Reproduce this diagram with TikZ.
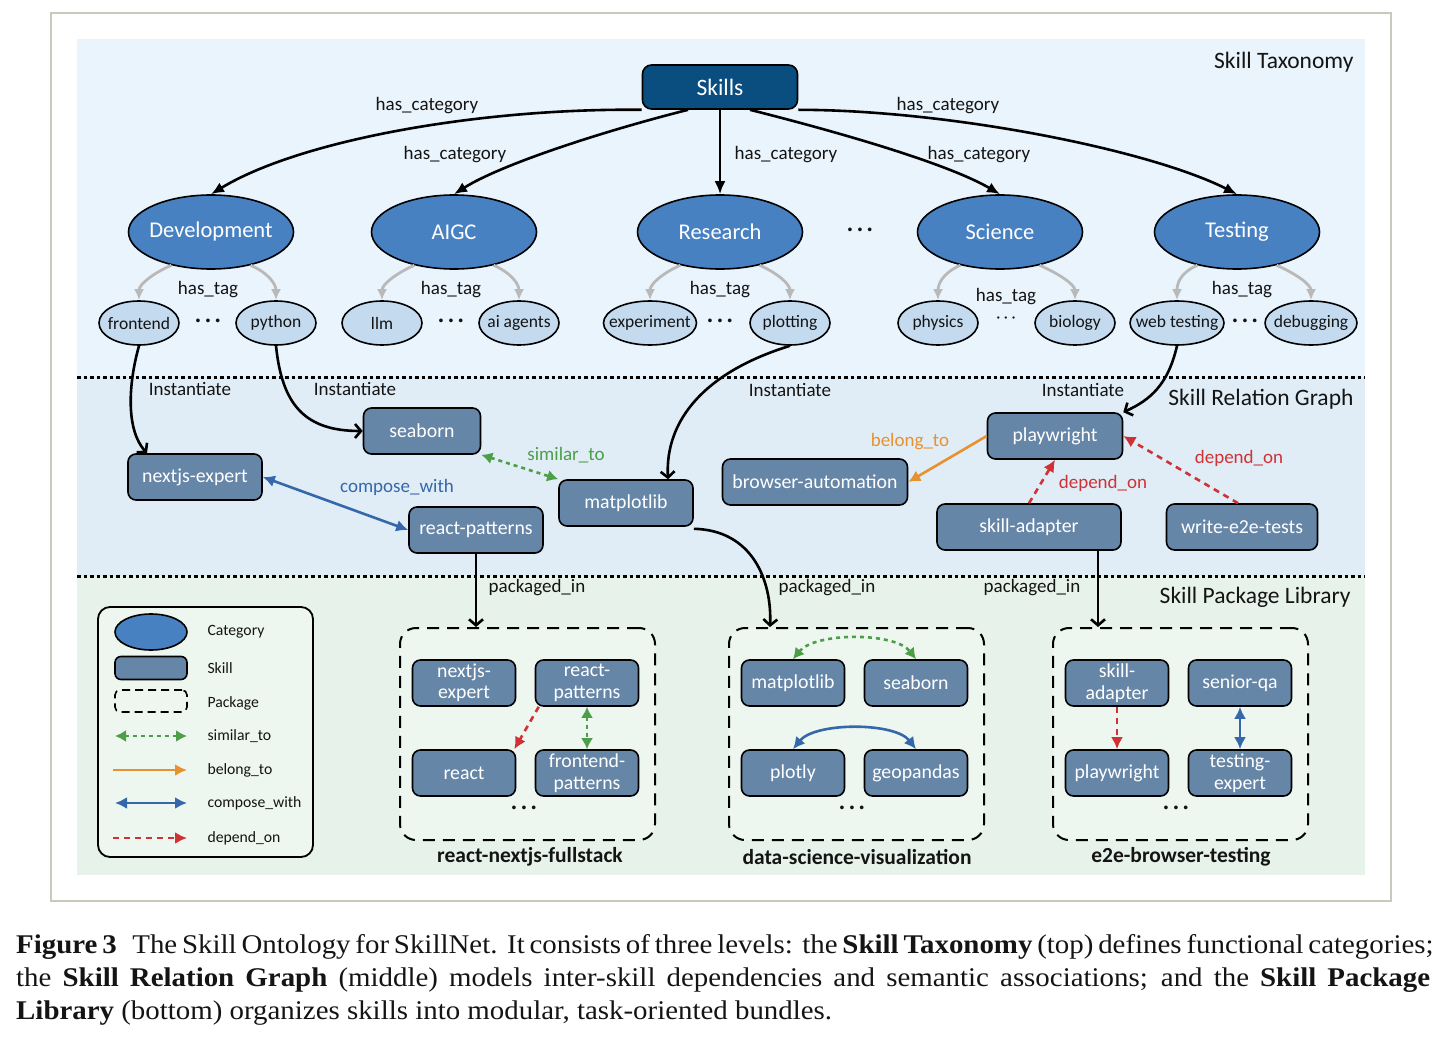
\documentclass[tikz,border=0pt]{standalone}
\usepackage{fontspec}
\setmainfont{Carlito}
\newfontfamily\capfont[FakeStretch=1.07]{Liberation Serif}
\usepackage{tikz}
\usetikzlibrary{arrows.meta,positioning,shapes.geometric,calc}
\usepackage{xcolor}
\definecolor{skillsdark}{RGB}{10,78,128}
\definecolor{catblue}{RGB}{72,129,194}
\definecolor{tagblue}{RGB}{196,218,238}
\definecolor{skillfill}{RGB}{102,134,168}
\definecolor{topbg}{RGB}{234,244,252}
\definecolor{midbg}{RGB}{224,237,247}
\definecolor{botbg}{RGB}{230,242,234}
\definecolor{pkgfill}{RGB}{238,246,240}
\definecolor{taggray}{RGB}{185,185,185}
\definecolor{simgreen}{RGB}{76,158,72}
\definecolor{compblue}{RGB}{52,104,170}
\definecolor{belongorange}{RGB}{232,145,48}
\definecolor{depred}{RGB}{206,50,52}
\definecolor{framegray}{RGB}{200,202,186}
\definecolor{txtblack}{RGB}{20,20,20}

\begin{document}
\begin{tikzpicture}[x=1pt,y=-1pt,>=Latex, every node/.style={font=\fontsize{19}{22}\selectfont,text=txtblack}]
\tikzstyle{skills}=[draw,rounded corners=9pt,line width=1.6pt,fill=skillsdark,text=white,minimum width=155pt,minimum height=44pt,font=\fontsize{23.5}{27}\selectfont]
\tikzstyle{cat}=[ellipse,draw,line width=1.6pt,fill=catblue,text=white,inner xsep=-14pt,inner ysep=0pt,minimum width=165pt,minimum height=74pt,font=\fontsize{22.5}{26}\selectfont]
\tikzstyle{tag}=[ellipse,draw,line width=1.6pt,fill=tagblue,inner xsep=-14pt,inner ysep=0pt,minimum width=80pt,minimum height=44pt,font=\fontsize{17.5}{20}\selectfont]
\tikzstyle{skill}=[draw,rounded corners=8pt,line width=1.6pt,fill=skillfill,text=white,minimum height=46pt,align=center,font=\fontsize{19.8}{21.5}\selectfont]
\tikzstyle{pskill}=[skill,minimum width=103pt]
\tikzstyle{pkg}=[draw,dash pattern=on 12pt off 8pt,rounded corners=16pt,line width=2pt,fill=pkgfill,minimum width=255pt,minimum height=212pt]
\tikzstyle{pkglab}=[font=\fontsize{21.5}{25}\selectfont\bfseries]
\tikzstyle{title}=[anchor=east,font=\fontsize{23.5}{27}\selectfont]
\tikzstyle{lab}=[font=\fontsize{19}{22}\selectfont]
\tikzstyle{dots}=[font=\fontsize{20}{24}\selectfont\bfseries]
\tikzstyle{legtxt}=[anchor=west,font=\fontsize{15.7}{18}\selectfont]
\tikzstyle{cate}=[-{Latex[length=13pt,width=11pt]},line width=2.6pt]
\tikzstyle{hastag}=[-{Latex[length=11pt,width=10pt]},line width=2.8pt,draw=taggray]
\tikzstyle{inst}=[-{Straight Barb[length=6pt,width=14pt]},line width=2.6pt]
\tikzstyle{sim}=[{Latex[length=11pt,width=12pt]}-{Latex[length=11pt,width=12pt]},line width=2.6pt,draw=simgreen,dash pattern=on 4pt off 4pt]
\tikzstyle{comp}=[{Latex[length=12pt,width=12pt]}-{Latex[length=12pt,width=12pt]},line width=2.6pt,draw=compblue]
\tikzstyle{belong}=[-{Latex[length=12pt,width=12pt]},line width=2.6pt,draw=belongorange]
\tikzstyle{dep}=[-{Latex[length=12pt,width=12pt]},line width=2.6pt,draw=depred,dash pattern=on 6pt off 5pt]
\useasboundingbox (0,0) rectangle (1445,1043);
\draw[framegray,line width=1.2pt] (51,13) rectangle (1391,901);
\fill[topbg] (77,39) rectangle (1365,377);
\fill[midbg] (77,377) rectangle (1365,576);
\fill[botbg] (77,576) rectangle (1365,875);
\draw[line width=3pt,dash pattern=on 3.5pt off 3pt] (77,377) -- (1365,377);
\draw[line width=3pt,dash pattern=on 3.5pt off 3pt] (77,576) -- (1365,576);
\node[title] (t1) at (1357,62) {Skill Taxonomy};
\node[title] (t2) at (1357,399) {Skill Relation Graph};
\node[title] (t3) at (1354,597) {Skill Package Library};

\node[skills] (sk) at (720,87) {Skills};
\node[cat] (dev) at (211,232) {Development};
\node[cat] (aigc) at (454,232) {AIGC};
\node[cat] (res) at (720,232) {Research};
\node[dots] (cdots) at (860,232) {· · ·};
\node[cat] (sci) at (1000,232) {Science};
\node[cat] (tst) at (1237,232) {Testing};

\draw[cate] (sk.south west) .. controls (480,108) and (300,140) .. (dev.north);
\draw[cate] ([xshift=-32pt]sk.south) .. controls (600,132) and (500,165) .. (aigc.north);
\draw[cate] (sk.south) -- (res.north);
\draw[cate] ([xshift=30pt]sk.south) .. controls (850,135) and (950,165) .. (sci.north);
\draw[cate] (sk.south east) .. controls (950,110) and (1150,150) .. (tst.north);
\node[lab] (hc1) at (427,106) {has\_category};
\node[lab] (hc2) at (455,155) {has\_category};
\node[lab] (hc3) at (786,155) {has\_category};
\node[lab] (hc4) at (979,155) {has\_category};
\node[lab] (hc5) at (948,106) {has\_category};

\node[tag] (front) at (139,323) {frontend};
\node[dots] (d1) at (208,323) {· · ·};
\node[tag] (py) at (276,323) {python};
\node[tag] (llm) at (382,323) {llm};
\node[dots] (d2) at (451,323) {· · ·};
\node[tag] (agents) at (519,323) {ai agents};
\node[tag,minimum width=93pt] (exp) at (650,323) {experiment};
\node[dots] (d3) at (720,323) {· · ·};
\node[tag] (plot) at (790,323) {plotting};
\node[tag] (phys) at (938,323) {physics};
\node[font=\fontsize{16}{19}\selectfont] (d4) at (1006,320) {· · ·};
\node[tag] (bio) at (1075,323) {biology};
\node[tag,minimum width=94pt] (web) at (1177,323) {web testing};
\node[dots] (d5) at (1245,323) {· · ·};
\node[tag,minimum width=92pt] (dbg) at (1311,323) {debugging};

\draw[hastag] (dev.220) .. controls +(-18,8) and +(0,-16) .. (front.north);
\draw[hastag] (dev.320) .. controls +(18,8) and +(0,-16) .. (py.north);
\draw[hastag] (aigc.220) .. controls +(-18,8) and +(0,-16) .. (llm.north);
\draw[hastag] (aigc.320) .. controls +(18,8) and +(0,-16) .. (agents.north);
\draw[hastag] (res.220) .. controls +(-18,8) and +(0,-16) .. (exp.north);
\draw[hastag] (res.320) .. controls +(18,8) and +(0,-16) .. (plot.north);
\draw[hastag] (sci.220) .. controls +(-18,8) and +(0,-16) .. (phys.north);
\draw[hastag] (sci.320) .. controls +(18,8) and +(0,-16) .. (bio.north);
\draw[hastag] (tst.220) .. controls +(-18,8) and +(0,-16) .. (web.north);
\draw[hastag] (tst.320) .. controls +(18,8) and +(0,-16) .. (dbg.north);
\node[lab] (ht1) at (208,290) {has\_tag};
\node[lab] (ht2) at (451,290) {has\_tag};
\node[lab] (ht3) at (720,290) {has\_tag};
\node[lab] (ht4) at (1006,297) {has\_tag};
\node[lab] (ht5) at (1242,290) {has\_tag};

\node[skill,minimum width=117pt] (sea) at (422,431) {seaborn};
\node[skill,minimum width=134pt] (nx) at (195,477) {nextjs-expert};
\node[skill,minimum width=134pt] (rp) at (476,530) {react-patterns};
\node[skill,minimum width=134pt] (mpl) at (626,503) {matplotlib};
\node[skill,minimum width=185pt] (ba) at (815,482) {browser-automation};
\node[skill,minimum width=135pt] (pw) at (1055,436) {playwright};
\node[skill,minimum width=184pt] (sa) at (1029,527) {skill-adapter};
\node[skill,minimum width=151pt] (we) at (1242,527) {write-e2e-tests};

\draw[inst] (front.south) .. controls (128,385) and (126,430) .. ([xshift=-48pt]nx.north);
\draw[inst] (py.south) .. controls (282,405) and (305,431) .. (sea.west);
\draw[inst] (plot.south) .. controls (705,372) and (665,420) .. ([xshift=42pt]mpl.north);
\draw[inst] (web.south) .. controls (1168,385) and (1150,400) .. (pw.north east);
\node[lab] (in1) at (190,389) {Instantiate};
\node[lab] (in2) at (355,389) {Instantiate};
\node[lab] (in3) at (790,390) {Instantiate};
\node[lab] (in4) at (1083,390) {Instantiate};

\draw[sim] (sea.south east) -- (mpl.north west);
\draw[comp] (nx.east) -- (rp.west);
\draw[belong] (pw.west) -- (ba.east);
\draw[dep] (sa.north) -- (pw.south);
\draw[dep] ([xshift=-4pt]we.north) -- (pw.east);
\node[lab,text=simgreen] (r1) at (566,455) {similar\_to};
\node[lab,text=compblue] (r2) at (397,487) {compose\_with};
\node[lab,text=belongorange] (r3) at (910,442) {belong\_to};
\node[lab,text=depred] (r4) at (1103,483) {depend\_on};
\node[lab,text=depred] (r5) at (1239,458) {depend\_on};

\node[pkg] (p1) at (527.5,734) {};
\node[pkg] (p2) at (856.5,734) {};
\node[pkg] (p3) at (1180.5,734) {};
\node[pkglab] (p1l) at (530,857) {react-nextjs-fullstack};
\node[pkglab] (p2l) at (857,857) {data-science-visualization};
\node[pkglab] (p3l) at (1181,857) {e2e-browser-testing};

\draw[inst] (rp.south) -- ([xshift=-51.5pt]p1.north);
\draw[inst] ([yshift=-2pt]mpl.south east) .. controls (752,530) and (772,580) .. ([xshift=-86.5pt]p2.north);
\draw[inst] ([xshift=69pt]sa.south) -- ([xshift=-82.5pt]p3.north);
\node[lab] (pk1) at (537,588) {packaged\_in};
\node[lab] (pk2) at (827,588) {packaged\_in};
\node[lab] (pk3) at (1032,588) {packaged\_in};

\node[pskill] (nxB) at (464,683) {nextjs-\\expert};
\node[pskill] (rpB) at (587,683) {react-\\patterns};
\node[pskill] (rc) at (464,773) {react};
\node[pskill] (fp) at (587,773) {frontend-\\patterns};
\node[dots] (pd1) at (524,810) {· · ·};
\draw[dep] ([xshift=4pt]rpB.south west) -- ([xshift=-2pt]rc.north east);
\draw[sim] (rpB.south) -- (fp.north);

\node[pskill] (mB) at (793,683) {matplotlib};
\node[pskill] (sB) at (916,683) {seaborn};
\node[pskill] (pl) at (793,773) {plotly};
\node[pskill] (geo) at (916,773) {geopandas};
\node[dots] (pd2) at (852,810) {· · ·};
\draw[sim] (mB.north) .. controls (815,632) and (895,632) .. (sB.north);
\draw[comp] (pl.north) .. controls (815,722) and (895,722) .. (geo.north);

\node[pskill] (saB) at (1117,683) {skill-\\adapter};
\node[pskill] (sq) at (1240,683) {senior-qa};
\node[pskill] (pwB) at (1117,773) {playwright};
\node[pskill] (te) at (1240,773) {testing-\\expert};
\node[dots] (pd3) at (1176,810) {· · ·};
\draw[dep] (saB.south) -- (pwB.north);
\draw[comp] (sq.south) -- (te.north);

\node[draw,rounded corners=12pt,line width=1.8pt,fill=pkgfill,minimum width=215pt,minimum height=250pt] (leg) at (205.5,732) {};
\node[ellipse,draw,line width=1.6pt,fill=catblue,minimum width=72pt,minimum height=36pt] (lcat) at (151,632) {};
\node[legtxt] (tcat) at (204,632) {Category};
\node[draw,rounded corners=6pt,line width=1.6pt,fill=skillfill,minimum width=72pt,minimum height=23pt] (lskill) at (151,668) {};
\node[legtxt] (tskill) at (204,668) {Skill};
\node[draw,dash pattern=on 8pt off 5pt,rounded corners=5pt,line width=1.6pt,minimum width=72pt,minimum height=22pt] (lpkg) at (151,701) {};
\node[legtxt] (tpkg) at (204,703) {Package};
\coordinate (s1) at (115,736);
\coordinate (s2) at (187,736);
\coordinate (b1) at (113,770);
\coordinate (b2) at (187,770);
\coordinate (c1) at (115,803);
\coordinate (c2) at (187,803);
\coordinate (e1) at (113,838);
\coordinate (e2) at (187,838);
\draw[sim] (s1) -- (s2);
\draw[belong] (b1) -- (b2);
\draw[comp] (c1) -- (c2);
\draw[dep] (e1) -- (e2);
\node[legtxt] (tsim) at (204,736) {similar\_to};
\node[legtxt] (tbel) at (204,770) {belong\_to};
\node[legtxt] (tcom) at (204,803) {compose\_with};
\node[legtxt] (tdep) at (204,838) {depend\_on};

\node[anchor=north west,align=left,inner sep=0pt,font=\capfont\fontsize{27}{33}\selectfont] (cap) at (16,934) {\makebox[1414pt][s]{\textbf{Figure 3}\hspace{0.4em} The Skill Ontology for SkillNet.\ \ It consists of three levels:\ \ the \textbf{Skill Taxonomy} (top) defines functional categories;}\\
\makebox[1414pt][s]{the \textbf{Skill Relation Graph} (middle) models inter-skill dependencies and semantic associations; and the \textbf{Skill Package}}\\
\textbf{Library} (bottom) organizes skills into modular, task-oriented bundles.};
\end{tikzpicture}
\end{document}
